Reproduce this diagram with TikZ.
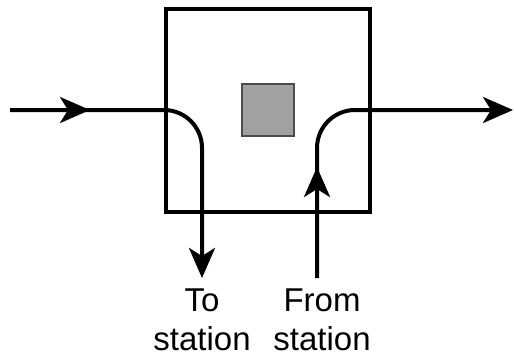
\documentclass[tikz,border=0pt]{standalone}
\usepackage{fontspec}
\setmainfont{Liberation Sans}
\usetikzlibrary{arrows.meta}
\begin{document}
\begin{tikzpicture}[x=1pt,y=-1pt,
  track/.style={line width=4pt, draw=black},
  head/.style={-{Stealth[length=30pt,width=26pt,inset=8pt]}},
  lbl/.style={font=\fontsize{33}{39}\selectfont, align=center, anchor=north, inner sep=0pt}]
  \useasboundingbox (0,0) rectangle (514,359);
  % station frame and the parked unit
  \node[draw=black, line width=4pt, minimum width=204pt, minimum height=203pt, inner sep=0pt] (frame) at (268,110) {};
  \node[draw=black!70, line width=1.2pt, fill=black!37, minimum width=52pt, minimum height=52pt, inner sep=0pt] (unit) at (268,110) {};
  % waypoints of the two tracks
  \coordinate (inStart) at (10,110);
  \coordinate (inMid) at (90,110);
  \coordinate (downEnd) at (202,278);
  \coordinate (upStart) at (317,278);
  \coordinate (upMid) at (317,167);
  \coordinate (outEnd) at (513,110);
  % incoming track, turning down to the station
  \draw[track, head, rounded corners=38pt] (inStart) -- (202,110) -- (downEnd);
  \draw[track, head] (inStart) -- (inMid);
  % track from the station, turning to the exit
  \draw[track, head, rounded corners=38pt] (upStart) -- (317,110) -- (outEnd);
  \draw[track, head] (upStart) -- (upMid);
  % labels
  \node[lbl] (toLbl) at (202,289) {To\\station};
  \node[lbl] (fromLbl) at (322,289) {From\\station};
\end{tikzpicture}
\end{document}
